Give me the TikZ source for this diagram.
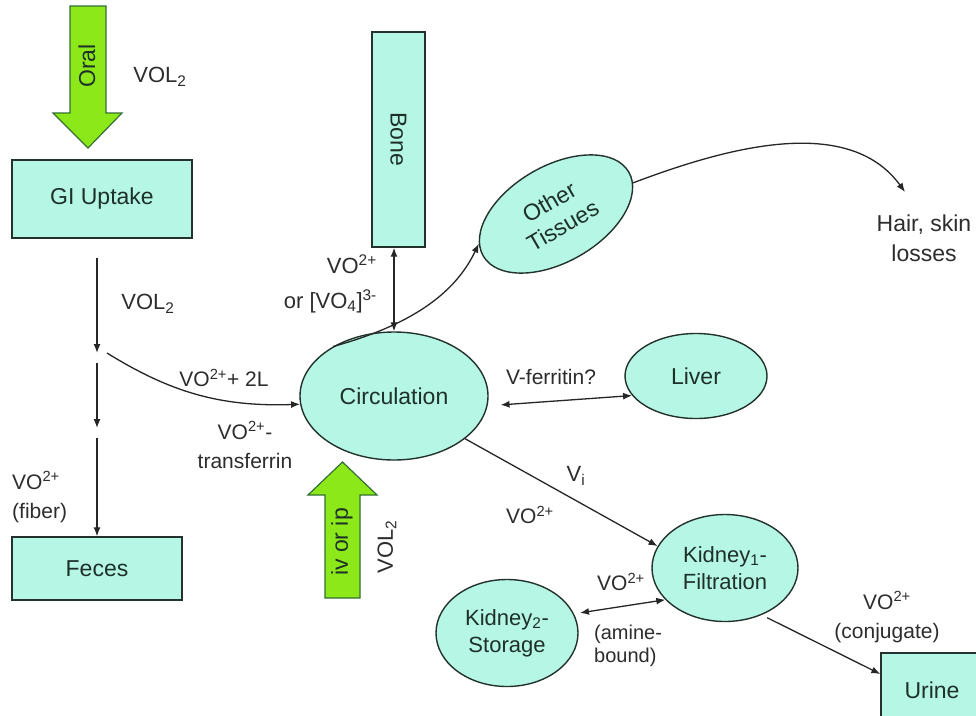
\documentclass[tikz,border=0pt]{standalone}
\usepackage{fontspec}
\setmainfont{Liberation Sans}
\usetikzlibrary{shapes.geometric,arrows.meta}
\definecolor{aqua}{RGB}{182,246,228}
\definecolor{lime}{RGB}{140,232,24}
\definecolor{edgec}{RGB}{35,50,45}
\definecolor{ink}{RGB}{30,48,42}
\definecolor{lbl}{RGB}{45,45,45}
\begin{document}
\begin{tikzpicture}[x=1pt,y=-1pt,
  boxnode/.style={draw=edgec, line width=1.4pt, fill=aqua, inner sep=0pt,
    font=\fontsize{23}{27}\selectfont, text=ink, align=center},
  ellnode/.style={ellipse, draw=edgec, line width=1.4pt, fill=aqua, inner sep=0pt,
    font=\fontsize{23}{27}\selectfont, text=ink, align=center},
  lab/.style={font=\fontsize{21}{29}\selectfont, text=lbl, inner sep=0pt, align=center},
  arr/.style={-{Latex[length=9pt,width=7pt]}, line width=1.3pt, draw=black!85},
  darr/.style={{Latex[length=9pt,width=7pt]}-{Latex[length=9pt,width=7pt]}, line width=1.3pt, draw=black!85},
  greenarrow/.style={fill=lime, draw=black!60!green!60!gray, line width=1.2pt}]
\useasboundingbox (0,0) rectangle (976,715);
\fill[white] (0,0) rectangle (976,715);
\clip (0,0) rectangle (976,715);

% green input arrows
\filldraw[greenarrow] (70,6) -- (106,6) -- (106,113) -- (122,113) -- (88,148) -- (53,113) -- (70,113) -- cycle;
\node[rotate=90, font=\fontsize{23}{27}\selectfont, text=ink] (oral) at (87,66) {Oral};
\filldraw[greenarrow] (325,598) -- (360,598) -- (360,495) -- (377,495) -- (342.5,462) -- (308,495) -- (325,495) -- cycle;
\node[rotate=90, font=\fontsize{23}{27}\selectfont, text=ink] (ivip) at (342,542) {iv or ip};

% boxes
\node[boxnode, minimum width=180pt, minimum height=78pt] (gi) at (102,199) {GI Uptake};
\node[boxnode, minimum width=170pt, minimum height=63pt] (feces) at (97,568.5) {Feces};
\node[boxnode, minimum width=53pt, minimum height=215pt] (bone) at (398.5,139.5) {};
\node[rotate=-90, font=\fontsize{23}{27}\selectfont, text=ink] (bonetxt) at (bone.center) {Bone};
\node[boxnode, minimum width=120pt, minimum height=78pt] (urine) at (941,692) {};
\node[font=\fontsize{23}{27}\selectfont, text=ink] (urinetxt) at (932,690) {Urine};

% ellipses
\node[ellnode, minimum width=188pt, minimum height=128pt] (circ) at (394,396) {Circulation};
\node[ellnode, minimum width=142pt, minimum height=85pt] (liver) at (696,376) {Liver};
\node[ellnode, minimum width=168pt, minimum height=96pt, rotate=30] (other) at (556,214) {Other\\Tissues};
\node[ellnode, minimum width=146pt, minimum height=107pt, font=\fontsize{22}{27}\selectfont] (k1) at (725,568) {Kidney\textsubscript{1}-\\Filtration};
\node[ellnode, minimum width=142pt, minimum height=107pt, font=\fontsize{22}{27}\selectfont] (k2) at (507,633) {Kidney\textsubscript{2}-\\Storage};

% free points
\coordinate (j1) at (97,353);
\coordinate (j2) at (97,363);
\coordinate (j3) at (97,428);
\coordinate (j4) at (97,438);
\coordinate (j5) at (107,353);
\node[lab, font=\fontsize{23}{30}\selectfont] (hair) at (924,238) {Hair, skin\\losses};
\coordinate (hairin) at (905,192);

% connectors
\draw[arr, shorten <=19pt] (gi.south -| j1) -- (j1);
\draw[arr] (j2) -- (j3);
\draw[arr] (j4) -- (feces.north -| j4);
\draw[arr] (j5) .. controls (170,392) and (220,407) .. (circ.185);
\draw[darr] (bone.south -| circ.north) -- (circ.north);
\draw[arr] (circ.141) .. controls (400,328) and (452,300) .. (other.171);
\draw[arr] (other.352) .. controls (720,150) and (847,112) .. (hairin);
\draw[darr, shorten <=13pt] (circ.-6) -- (liver.197);
\draw[arr] (circ.-31) -- (k1.162);
\draw[darr, shorten <=6pt] (k2.16) -- (k1.208);
\draw[arr, shorten <=6pt] (k1.-52) -- ([yshift=18pt]urine.west);

% labels
\node[lab, font=\fontsize{22}{29}\selectfont] (l1) at (160,77) {VOL\textsubscript{2}};
\node[lab, font=\fontsize{22}{29}\selectfont] (l2) at (148,304) {VOL\textsubscript{2}};
\node[lab] (l3) at (224,378) {VO\textsuperscript{2+}+ 2L};
\node[lab] (l4) at (245,445) {VO\textsuperscript{2+}-\\transferrin};
\node[lab, align=left, anchor=west] (l5) at (12,497) {VO\textsuperscript{2+}\\(fiber)};
\node[lab, align=right, anchor=east, font=\fontsize{22}{35}\selectfont] (l6) at (377,284) {VO\textsuperscript{2+}\\or [VO\textsubscript{4}]\textsuperscript{3-}};
\node[lab, rotate=90, font=\fontsize{22}{29}\selectfont] (l7) at (387,547) {VOL\textsubscript{2}};
\node[lab] (l8) at (551,377) {V-ferritin?};
\node[lab, font=\fontsize{22}{29}\selectfont] (l9) at (576,476) {V\textsubscript{i}};
\node[lab] (l10) at (530,515) {VO\textsuperscript{2+}};
\node[lab] (l11) at (621,582) {VO\textsuperscript{2+}};
\node[lab, align=left, anchor=west, font=\fontsize{20}{23}\selectfont] (l12) at (594,646) {(amine-\\bound)};
\node[lab] (l13) at (887,617) {VO\textsuperscript{2+}\\(conjugate)};
\end{tikzpicture}
\end{document}
